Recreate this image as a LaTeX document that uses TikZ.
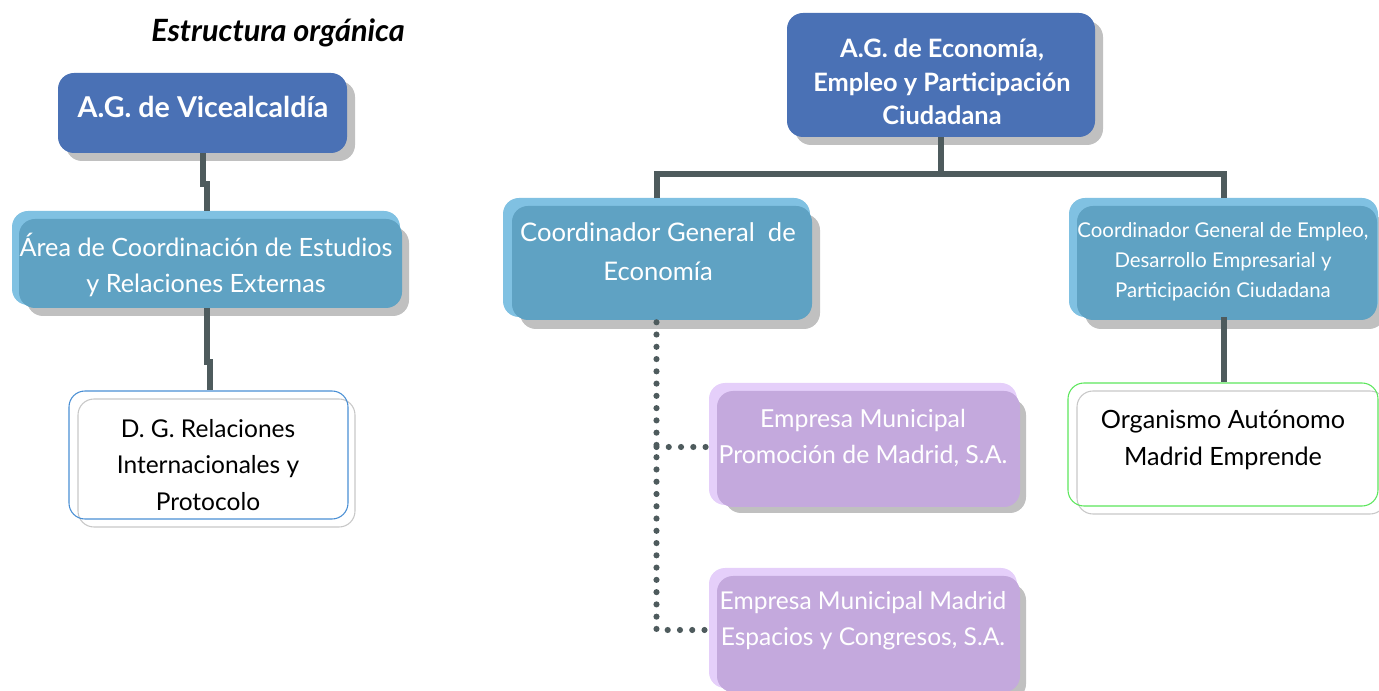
\documentclass[tikz,border=0pt]{standalone}
\usepackage{fontspec}
\setmainfont{Lato}
\usetikzlibrary{calc,fit}
\definecolor{agblue}{HTML}{4A71B5}
\definecolor{ltblue}{HTML}{80C1E2}
\definecolor{mdblue}{HTML}{5FA2C3}
\definecolor{ltlav}{HTML}{E5CFFA}
\definecolor{mdlav}{HTML}{C4A9DD}
\definecolor{shadowc}{HTML}{C0C0C0}
\definecolor{connc}{HTML}{4E5B5D}
\definecolor{dgblue}{HTML}{4A8FD4}
\definecolor{orggreen}{HTML}{5CE65C}
\definecolor{grayline}{HTML}{C8C8C8}
\begin{document}
\begin{tikzpicture}[x=0.75pt,y=-0.75pt,
  lay/.style={inner sep=0pt, rounded corners=12pt},
  shad/.style={lay, fill=shadowc},
  conn/.style={draw=connc, line width=4.5pt},
  dots/.style={draw=connc, line width=4.6pt, line cap=round, dash pattern=on 0pt off 9.2pt},
  wtxt/.style={text=white, align=center, inner sep=0pt},
  btxt/.style={text=black, align=center, inner sep=0pt},
]
\useasboundingbox (0,0) rectangle (1379,691);

% title
\node[anchor=east, inner sep=0pt, font=\fontsize{23}{26}\selectfont\bfseries\itshape] (title) at (405,33) {Estructura orgánica};

% A.G. de Vicealcaldia
\node[shad, fit={(66,81) (355,161)}] (vicesh) {};
\node[lay, fill=agblue, fit={(58,73) (347,153)}] (vice) {};
\node[wtxt, font=\fontsize{21.5}{24}\selectfont\bfseries] (vicet) at (203,107) {A.G. de Vicealcaldía};

% Area de Coordinacion
\node[shad, fit={(27,227) (409,316)}] (areash) {};
\node[lay, fill=ltblue, fit={(12,211) (400,305)}] (areal) {};
\node[lay, fill=mdblue, fit={(19,219) (402,308)}] (area) {};
\node[wtxt, font=\fontsize{18.9}{27.5}\selectfont] (areat) at (206,265) {Área de Coordinación de Estudios\\y Relaciones Externas};

% D.G. Relaciones
\node[lay, draw=grayline, fill=white, line width=0.8pt, fit={(78,399) (355,527)}] (dgsh) {};
\node[lay, draw=dgblue, line width=0.8pt, fit={(69,391) (348,519)}] (dg) {};
\node[btxt, font=\fontsize{18.4}{27.5}\selectfont] (dgt) at (208,465) {D. G. Relaciones\\Internacionales y\\Protocolo};

% connectors left
\draw[conn] (vice.south) -- ++(0,31) coordinate (j1) -- ++(4,0) coordinate (j2) -- (j2 |- areal.north);
\draw[conn] ($(area.south)+(-4,0)$) -- ++(0,54) coordinate (j3) -- ++(3.5,0) coordinate (j4) -- (j4 |- dg.north);

% A.G. de Economia
\node[shad, fit={(795,21) (1103,145)}] (agsh) {};
\node[lay, fill=agblue, fit={(787,13) (1095,137)}] (ag) {};
\node[wtxt, font=\fontsize{19}{25}\selectfont\bfseries] (agt) at (942,82) {A.G. de Economía,\\Empleo y Participación\\Ciudadana};

% Coordinador General de Economia
\node[shad, fit={(520,214) (820,329)}] (econsh) {};
\node[lay, fill=ltblue, fit={(503,198) (810,317)}] (econl) {};
\node[lay, fill=mdblue, fit={(512,206) (812,320)}] (econ) {};
\node[wtxt, font=\fontsize{19.2}{29}\selectfont] (econt) at (658,252) {Coordinador General \ de\\Economía};

% Coordinador General de Empleo
\node[shad, fit={(1085,214) (1385,329)}] (emplsh) {};
\node[lay, fill=ltblue, fit={(1069,198) (1378,317)}] (empll) {};
\node[lay, fill=mdblue, fit={(1077,206) (1377,320)}] (empl) {};
\node[wtxt, font=\fontsize{15.3}{22.5}\selectfont] (emplt) at (1223,262) {Coordinador General de Empleo,\\Desarrollo Empresarial y\\Participación Ciudadana};

% bus
\coordinate (bus) at (941,174);
\draw[conn] (ag.south) -- (bus);
\draw[conn] (econl.north) -- (econl.north |- bus) -| (empll.north);

% Empresa 1
\node[shad, fit={(725,399) (1026,513)}] (emp1sh) {};
\node[lay, fill=ltlav, fit={(709,383) (1017,505)}] (emp1l) {};
\node[lay, fill=mdlav, fit={(717,391) (1020,507)}] (emp1) {};
\node[wtxt, font=\fontsize{18.6}{27}\selectfont] (emp1t) at (863,438) {Empresa Municipal\\Promoción de Madrid, S.A.};

% Empresa 2
\node[shad, fit={(725,584) (1026,700)}] (emp2sh) {};
\node[lay, fill=ltlav, fit={(709,568) (1017,688)}] (emp2l) {};
\node[lay, fill=mdlav, fit={(717,576) (1020,692)}] (emp2) {};
\node[wtxt, font=\fontsize{18.4}{27}\selectfont] (emp2t) at (863,621) {Empresa Municipal Madrid\\Espacios y Congresos, S.A.};

% dotted connectors
\draw[dots] ($(econl.south)+(0,5)$) |- ($(emp2l.west)+(0,2)$);
\draw[dots] ($(econl.south |- emp1l.west)+(0,3)$) -- ($(emp1l.west)+(0,3)$);

% Organismo
\node[lay, draw=grayline, fill=white, line width=0.8pt, fit={(1077,391) (1386,514)}] (orgsh) {};
\node[lay, draw=orggreen, line width=0.8pt, fit={(1068,383) (1378,506)}] (org) {};
\node[btxt, font=\fontsize{18.9}{28}\selectfont] (orgt) at (1223,440) {Organismo Autónomo\\Madrid Emprende};

\draw[conn] (empll.south) -- (empll.south |- org.north);
\end{tikzpicture}
\end{document}
